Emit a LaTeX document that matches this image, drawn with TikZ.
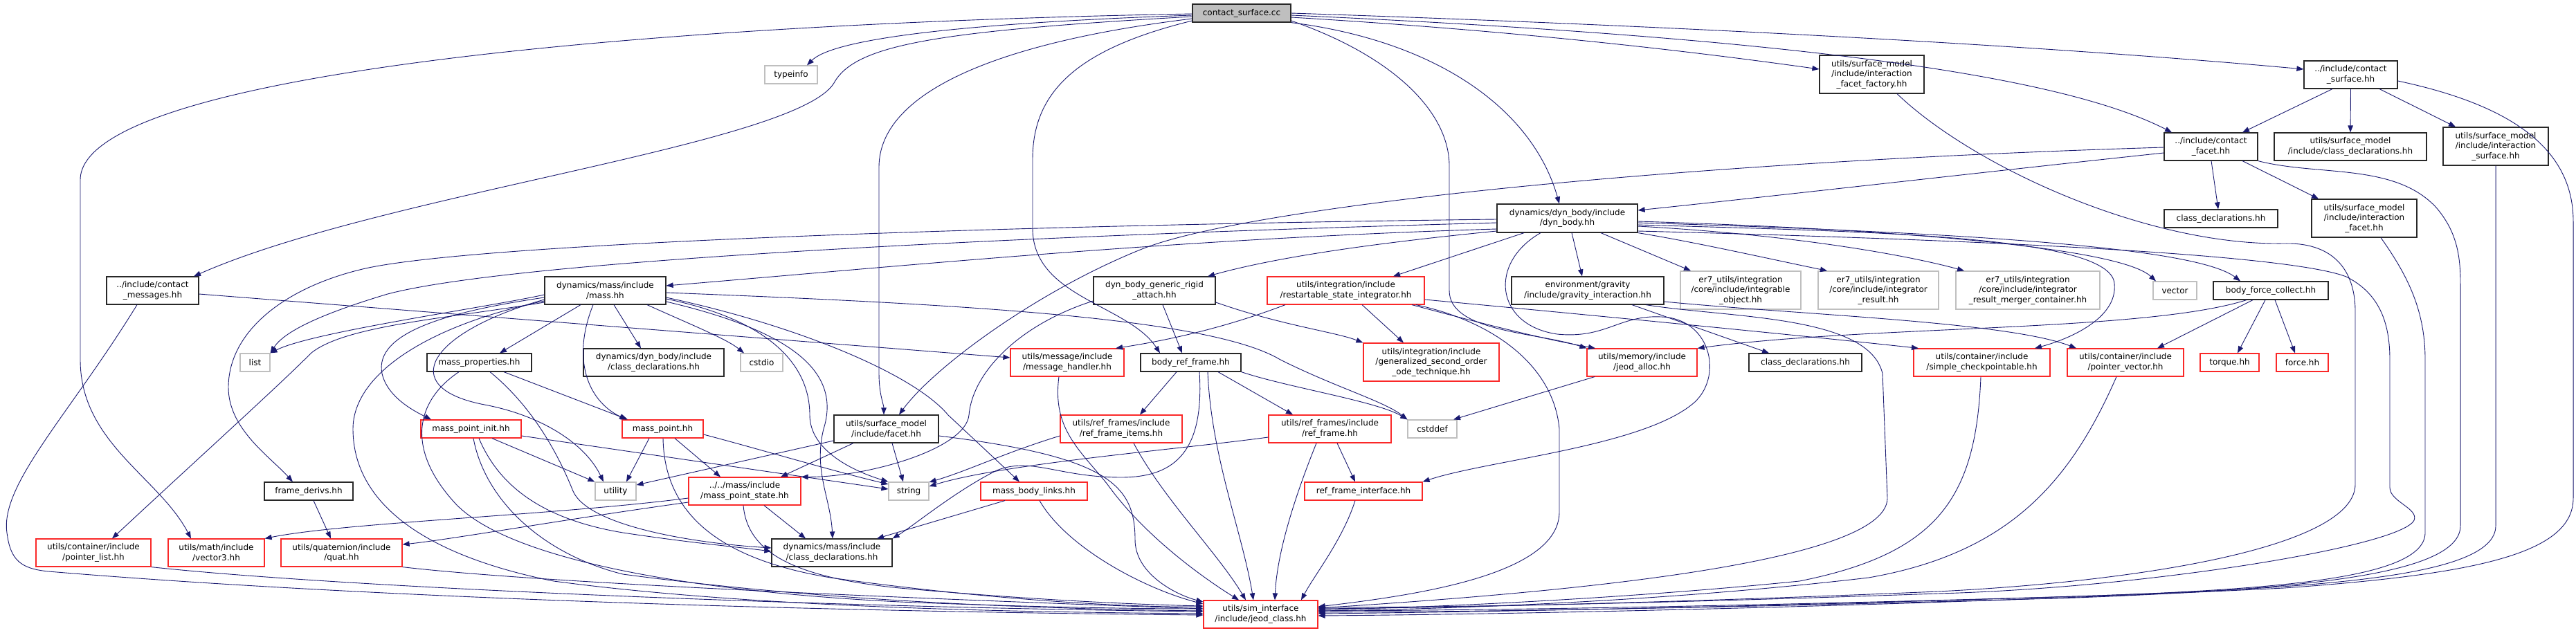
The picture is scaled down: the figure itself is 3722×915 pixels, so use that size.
\documentclass[tikz,border=0pt]{standalone}
\usepackage{fontspec}
\setmainfont{DejaVu Sans}
\usetikzlibrary{arrows.meta}
\definecolor{edgec}{RGB}{25,25,112}
\definecolor{redb}{RGB}{250,40,40}
\definecolor{grayb}{RGB}{191,191,191}
\definecolor{blackb}{RGB}{40,40,40}
\begin{document}
\begin{tikzpicture}[x=1pt,y=-1pt,
  box/.style={draw=blackb, line width=1.2pt, align=center, inner sep=0pt, fill=white,
    font=\fontsize{12pt}{14.5pt}\selectfont, text=black},
  nb/.style={box},
  nr/.style={box, draw=redb},
  ng/.style={box, draw=grayb},
  dep/.style={draw=edgec, line width=0.9pt, -{Triangle[length=10pt,width=7.5pt]}}]
\fill[white] (0,0) rectangle (3722,915);
\useasboundingbox (0,0) rectangle (3722,915);

% ---------------- nodes ----------------
\node[box, fill=grayb, minimum width=142pt, minimum height=26pt] (cs) at (1794,19) {contact\_surface.cc};
\node[ng, minimum width=76pt, minimum height=26pt] (typeinfo) at (1143,108) {typeinfo};
\node[nb, minimum width=151pt, minimum height=55pt] (iff) at (2704.5,107.5) {utils/surface\_model\\/include/interaction\\\_facet\_factory.hh};
\node[nb, minimum width=135pt, minimum height=40pt] (csh) at (3396.5,108) {../include/contact\\\_surface.hh};
\node[nb, minimum width=135pt, minimum height=40pt] (cf) at (3194.5,212) {../include/contact\\\_facet.hh};
\node[nb, minimum width=220pt, minimum height=40pt] (smcd) at (3396,212) {utils/surface\_model\\/include/class\_declarations.hh};
\node[nb, minimum width=152pt, minimum height=55pt] (isurf) at (3606,211.5) {utils/surface\_model\\/include/interaction\\\_surface.hh};
\node[nb, minimum width=164pt, minimum height=26pt] (cd1) at (3209,316) {class\_declarations.hh};
\node[nb, minimum width=152pt, minimum height=55pt] (ifacet) at (3416,315.5) {utils/surface\_model\\/include/interaction\\\_facet.hh};
\node[nb, minimum width=203pt, minimum height=41pt] (dynbody) at (2264.5,315.5) {dynamics/dyn\_body/include\\/dyn\_body.hh};
\node[nb, minimum width=133pt, minimum height=40pt] (cmsg) at (220.5,420) {../include/contact\\\_messages.hh};
\node[nb, minimum width=175pt, minimum height=40pt] (mass) at (874.5,420) {dynamics/mass/include\\/mass.hh};
\node[ng, minimum width=43pt, minimum height=26pt] (list) at (368.5,524) {list};
\node[nb, minimum width=151pt, minimum height=26pt] (massprop) at (692.5,524) {mass\_properties.hh};
\node[nb, minimum width=203pt, minimum height=40pt] (dbcd) at (944.5,524) {dynamics/dyn\_body/include\\/class\_declarations.hh};
\node[ng, minimum width=61pt, minimum height=26pt] (cstdio) at (1100.5,524) {cstdio};
\node[nb, minimum width=176pt, minimum height=40pt] (dbgra) at (1668,420) {dyn\_body\_generic\_rigid\\\_attach.hh};
\node[nr, minimum width=164pt, minimum height=40pt] (msgh) at (1542,524) {utils/message/include\\/message\_handler.hh};
\node[nb, minimum width=145pt, minimum height=26pt] (brf) at (1720.5,524) {body\_ref\_frame.hh};
\node[nr, minimum width=227pt, minimum height=40pt] (rsi) at (1944.5,420) {utils/integration/include\\/restartable\_state\_integrator.hh};
\node[nb, minimum width=220pt, minimum height=40pt] (grav) at (2294,420) {environment/gravity\\/include/gravity\_interaction.hh};
\node[ng, minimum width=174pt, minimum height=55pt] (intobj) at (2515,419.5) {er7\_utils/integration\\/core/include/integrable\\\_object.hh};
\node[ng, minimum width=174pt, minimum height=55pt] (intres) at (2714,419.5) {er7\_utils/integration\\/core/include/integrator\\\_result.hh};
\node[ng, minimum width=208pt, minimum height=55pt] (intmerge) at (2930,419.5) {er7\_utils/integration\\/core/include/integrator\\\_result\_merger\_container.hh};
\node[ng, minimum width=63pt, minimum height=26pt] (vector) at (3142.5,420) {vector};
\node[nb, minimum width=166pt, minimum height=26pt] (bfc) at (3281,420) {body\_force\_collect.hh};
\node[nr, minimum width=196pt, minimum height=55pt] (gso) at (2068,523.5) {utils/integration/include\\/generalized\_second\_order\\\_ode\_technique.hh};
\node[nr, minimum width=159pt, minimum height=40pt] (jalloc) at (2372.5,524) {utils/memory/include\\/jeod\_alloc.hh};
\node[nb, minimum width=163pt, minimum height=26pt] (cd2) at (2608.5,524) {class\_declarations.hh};
\node[nr, minimum width=197pt, minimum height=40pt] (scp) at (2863.5,524) {utils/container/include\\/simple\_checkpointable.hh};
\node[nr, minimum width=168pt, minimum height=40pt] (pvec) at (3071,524) {utils/container/include\\/pointer\_vector.hh};
\node[nr, minimum width=85pt, minimum height=26pt] (torque) at (3221.5,524) {torque.hh};
\node[nr, minimum width=75pt, minimum height=26pt] (force) at (3326.5,524) {force.hh};
\node[nr, minimum width=145pt, minimum height=26pt] (mpi) at (680.5,620) {mass\_point\_init.hh};
\node[nr, minimum width=117pt, minimum height=26pt] (mp) at (957.5,620) {mass\_point.hh};
\node[nb, minimum width=151pt, minimum height=40pt] (smfacet) at (1280.5,620) {utils/surface\_model\\/include/facet.hh};
\node[nr, minimum width=176pt, minimum height=40pt] (rfi) at (1620,620) {utils/ref\_frames/include\\/ref\_frame\_items.hh};
\node[nr, minimum width=177pt, minimum height=40pt] (rf) at (1921.5,620) {utils/ref\_frames/include\\/ref\_frame.hh};
\node[ng, minimum width=71pt, minimum height=26pt] (cstddef) at (2069.5,620) {cstddef};
\node[nb, minimum width=128pt, minimum height=26pt] (fd) at (446,710) {frame\_derivs.hh};
\node[ng, minimum width=59pt, minimum height=26pt] (utility) at (889.5,710) {utility};
\node[nr, minimum width=162pt, minimum height=40pt] (mps) at (1076,710) {../../mass/include\\/mass\_point\_state.hh};
\node[ng, minimum width=58pt, minimum height=26pt] (string) at (1313,710) {string};
\node[nr, minimum width=154pt, minimum height=26pt] (mbl) at (1494,710) {mass\_body\_links.hh};
\node[nr, minimum width=170pt, minimum height=26pt] (rfint) at (1970,710) {ref\_frame\_interface.hh};
\node[nr, minimum width=166pt, minimum height=40pt] (plist) at (135,799) {utils/container/include\\/pointer\_list.hh};
\node[nr, minimum width=139pt, minimum height=40pt] (v3) at (312.5,799) {utils/math/include\\/vector3.hh};
\node[nr, minimum width=175pt, minimum height=40pt] (quat) at (493.5,799) {utils/quaternion/include\\/quat.hh};
\node[nb, minimum width=174pt, minimum height=40pt] (mcd) at (1202,799) {dynamics/mass/include\\/class\_declarations.hh};
\node[nr, minimum width=165pt, minimum height=40pt] (jc) at (1821.5,888) {utils/sim\_interface\\/include/jeod\_class.hh};

% ---------------- edges ----------------
% contact_surface.cc
\draw[dep] (cs.west |- 0,20) .. controls (900,35) and (116,110) .. (116,260) -- (116,520) .. controls (116,640) and (230,690) .. (v3.north -| 276,0);
\draw[dep] (cs.west |- 0,22) .. controls (1350,35) and (1200,60) .. (typeinfo.north -| 1166,0);
\draw[dep] (cs.west |- 0,24) .. controls (1350,45) and (1235,65) .. (1205,120) .. controls (1150,210) and (550,280) .. (cmsg.north -| 280,0);
\draw[dep] (cs.west |- 0,27) .. controls (1450,60) and (1272,130) .. (1270,240) -- (1270,540) .. controls (1270,570) and (1277,585) .. (smfacet.north -| 1277,0);
\draw[dep] (cs.west |- 0,30) .. controls (1560,70) and (1492,130) .. (1492,230) -- (1492,330) .. controls (1492,430) and (1630,440) .. (brf.north -| 1676,0);
\draw[dep] (cs.south east) .. controls (2080,60) and (2215,160) .. (dynbody.north -| 2253,0);
\draw[dep] (cs.east |- 0,30) .. controls (2010,80) and (2094,160) .. (2094,240) -- (2094,420) .. controls (2094,480) and (2220,480) .. (jalloc.north west);
\draw[dep] (cs.east |- 0,25) .. controls (2200,45) and (2450,75) .. (iff.west |- 0,100);
\draw[dep] (cs.east |- 0,19) .. controls (2500,40) and (3000,70) .. (csh.west |- 0,100);
\draw[dep] (cs.east |- 0,22) .. controls (2600,55) and (2980,110) .. (cf.north -| 3138,0);
% contact_surface.hh
\draw[dep] (csh.south -| 3370,0) -- (cf.north -| 3240,0);
\draw[dep] (csh.south) -- (smcd.north);
\draw[dep] (csh.south -| 3438,0) -- (isurf.north -| 3548,0);
\draw[dep] (csh.east |- 0,117) .. controls (3620,150) and (3718,210) .. (3718,320) -- (3718,720) .. controls (3718,800) and (3580,830) .. (3300,850) .. controls (2800,875) and (2200,888) .. (jc.east |- 0,890);
% interaction_surface
\draw[dep] (isurf.south) -- (3606,760) .. controls (3606,835) and (3350,850) .. (3000,862) .. controls (2600,875) and (2200,884) .. (jc.east |- 0,887);
% contact_facet.hh
\draw[dep] (cf.south -| 3195,0) -- (cd1.north -| 3205,0);
\draw[dep] (cf.south -| 3240,0) -- (ifacet.north -| 3350,0);
\draw[dep] (cf.west |- 0,221) .. controls (2900,245) and (2550,285) .. (dynbody.east |- 0,304);
\draw[dep] (cf.west |- 0,213) .. controls (2400,235) and (1800,300) .. (1650,360) .. controls (1500,420) and (1350,530) .. (smfacet.north -| 1299,0);
\draw[dep] (cf.south east) .. controls (3350,255) and (3460,235) .. (3520,300) .. controls (3550,335) and (3555,370) .. (3555,410) -- (3555,760) .. controls (3555,835) and (3300,852) .. (3000,864) .. controls (2600,876) and (2200,884) .. (jc.east |- 0,885);
% interaction_facet
\draw[dep] (ifacet.south -| 3440,0) .. controls (3480,400) and (3504,450) .. (3504,520) -- (3504,770) .. controls (3504,835) and (3300,852) .. (3000,862) .. controls (2600,874) and (2200,882) .. (jc.east |- 0,883);
% interaction_facet_factory
\draw[dep] (iff.south -| 2741,0) .. controls (2850,240) and (3100,355) .. (3300,352) .. controls (3380,350) and (3403,400) .. (3403,450) -- (3403,700) .. controls (3403,790) and (3100,840) .. (2800,855) .. controls (2400,872) and (2100,878) .. (jc.east |- 0,880);
% dyn_body.hh
\draw[dep] (dynbody.east |- 0,334) .. controls (2800,345) and (3300,365) .. (3390,400) .. controls (3440,425) and (3453,470) .. (3453,520) -- (3453,705) .. controls (3453,725) and (3495,735) .. (3488,752) .. controls (3470,790) and (3100,850) .. (2800,858) .. controls (2400,872) and (2100,878) .. (jc.east |- 0,878);
\draw[dep] (dynbody.west |- 0,331) .. controls (1700,345) and (1300,385) .. (mass.east |- 0,413);
\draw[dep] (dynbody.west |- 0,317) .. controls (1500,325) and (700,350) .. (528,388) .. controls (410,415) and (330,480) .. (330,560) .. controls (330,620) and (390,660) .. (fd.north -| 423,0);
\draw[dep] (dynbody.west |- 0,322) .. controls (1500,340) and (750,375) .. (560,425) .. controls (460,455) and (410,480) .. (list.north east);
\draw[dep] (dynbody.west |- 0,334) .. controls (2000,350) and (1850,370) .. (dbgra.north -| 1745,0);
\draw[dep] (dynbody.south -| 2202,0) -- (rsi.north -| 2013,0);
\draw[dep] (dynbody.south -| 2271,0) -- (grav.north -| 2286,0);
\draw[dep] (dynbody.south -| 2313,0) -- (intobj.north -| 2443,0);
\draw[dep] (dynbody.south east) .. controls (2450,350) and (2560,375) .. (intres.north -| 2640,0);
\draw[dep] (dynbody.east |- 0,327) .. controls (2600,340) and (2760,370) .. (intmerge.north -| 2838,0);
\draw[dep] (dynbody.east |- 0,320) .. controls (2700,330) and (3060,355) .. (vector.north -| 3115,0);
\draw[dep] (dynbody.east |- 0,322) .. controls (2800,335) and (3170,355) .. (bfc.north -| 3237,0);
\draw[dep] (dynbody.east |- 0,325) .. controls (2700,335) and (3050,340) .. (3055,410) .. controls (3060,460) and (2990,490) .. (scp.north -| 2940,0);
\draw[dep] (dynbody.south -| 2226,0) .. controls (2150,380) and (2160,470) .. (2250,483) .. controls (2320,490) and (2340,455) .. (2400,458) .. controls (2470,460) and (2490,540) .. (2450,580) .. controls (2380,645) and (2150,665) .. (rfint.north east);
% mass.hh
\draw[dep] (mass.west |- 0,426) .. controls (700,445) and (450,480) .. (list.north east);
\draw[dep] (mass.south -| 839,0) -- (massprop.north -| 722,0);
\draw[dep] (mass.south -| 887,0) -- (dbcd.north -| 926,0);
\draw[dep] (mass.south -| 935,0) .. controls (1000,470) and (1050,490) .. (cstdio.north -| 1075,0);
\draw[dep] (mass.south -| 857,0) .. controls (825,520) and (850,580) .. (mp.north -| 905,0);
\draw[dep] (mass.west |- 0,430) .. controls (650,450) and (540,480) .. (552,540) .. controls (560,575) and (600,595) .. (mpi.north -| 623,0);
\draw[dep] (mass.west |- 0,433) .. controls (620,480) and (570,560) .. (700,585) .. controls (780,600) and (845,640) .. (utility.north -| 872,0);
\draw[dep] (mass.west |- 0,437) .. controls (650,460) and (500,470) .. (450,510) .. controls (400,560) and (300,650) .. (plist.north -| 162,0);
\draw[dep] (mass.west |- 0,435) .. controls (620,470) and (510,540) .. (510,620) .. controls (510,720) and (600,800) .. (800,840) .. controls (1100,880) and (1500,885) .. (jc.west |- 0,887);
\draw[dep] (mass.east |- 0,430) .. controls (1150,470) and (1320,540) .. (1370,600) -- (mbl.north -| 1473,0);
\draw[dep] (mass.east |- 0,432) .. controls (1100,460) and (1170,520) .. (1170,600) .. controls (1170,650) and (1230,680) .. (string.north west);
\draw[dep] (mass.east |- 0,436) .. controls (1150,480) and (1215,540) .. (1190,620) .. controls (1175,680) and (1200,720) .. (mcd.north -| 1203,0);
\draw[dep] (mass.east |- 0,423) .. controls (1400,440) and (1750,460) .. (1850,520) .. controls (1930,560) and (2000,580) .. (cstddef.north west);
% mass_properties
\draw[dep] (massprop.south -| 728,0) -- (mp.north -| 907,0);
\draw[dep] (massprop.south -| 663,0) .. controls (600,580) and (585,650) .. (660,730) .. controls (740,810) and (1000,855) .. (1300,870) .. controls (1500,878) and (1650,880) .. (jc.west |- 0,880);
\draw[dep] (massprop.south -| 708,0) .. controls (760,580) and (800,640) .. (828,710) .. controls (850,760) and (1000,785) .. (mcd.west |- 0,792);
% mass_point_init
\draw[dep] (mpi.south -| 711,0) -- (utility.north west);
\draw[dep] (mpi.east |- 0,630) -- (string.west |- 0,707);
\draw[dep] (mpi.south -| 692,0) .. controls (720,700) and (780,750) .. (900,770) .. controls (1000,785) and (1060,790) .. (mcd.west |- 0,797);
\draw[dep] (mpi.south -| 684,0) .. controls (700,720) and (780,800) .. (900,830) .. controls (1200,870) and (1500,880) .. (jc.west |- 0,883);
% mass_point
\draw[dep] (mp.south -| 938,0) -- (utility.north -| 905,0);
\draw[dep] (mp.south -| 975,0) -- (mps.north -| 1041,0);
\draw[dep] (mp.east |- 0,628) .. controls (1100,650) and (1200,680) .. (string.west |- 0,700);
\draw[dep] (mp.south -| 958,0) .. controls (960,750) and (1050,810) .. (1200,835) .. controls (1450,870) and (1650,878) .. (jc.west |- 0,877);
% mass_point_state
\draw[dep] (mps.south -| 1104,0) -- (mcd.north -| 1164,0);
\draw[dep] (mps.south -| 1074,0) .. controls (1080,800) and (1150,835) .. (1300,850) .. controls (1500,868) and (1650,874) .. (jc.west |- 0,876);
\draw[dep] (mps.west |- 0,720) .. controls (800,745) and (500,755) .. (v3.north east);
\draw[dep] (mps.west |- 0,726) .. controls (820,750) and (650,780) .. (quat.east |- 0,787);
% facet.hh
\draw[dep] (smfacet.west |- 0,637) -- (utility.east |- 0,701);
\draw[dep] (smfacet.south -| 1233,0) -- (mps.north -| 1128,0);
\draw[dep] (smfacet.south -| 1289,0) -- (string.north -| 1305,0);
\draw[dep] (smfacet.east |- 0,630) .. controls (1600,660) and (1640,700) .. (1640,780) .. controls (1640,830) and (1700,860) .. (jc.west |- 0,870);
% ref_frame_items
\draw[dep] (rfi.west |- 0,630) .. controls (1450,655) and (1400,680) .. (string.east |- 0,697);
\draw[dep] (rfi.south -| 1638,0) .. controls (1680,720) and (1760,800) .. (jc.north -| 1800,0);
% ref_frame
\draw[dep] (rf.west |- 0,632) .. controls (1700,650) and (1450,670) .. (string.east |- 0,703);
\draw[dep] (rf.south -| 1932,0) -- (rfint.north -| 1958,0);
\draw[dep] (rf.south -| 1902,0) .. controls (1870,720) and (1845,800) .. (jc.north -| 1842,0);
% ref_frame_interface
\draw[dep] (rfint.south -| 1958,0) .. controls (1940,780) and (1900,830) .. (jc.north -| 1880,0);
% body_ref_frame
\draw[dep] (brf.south -| 1700,0) -- (rfi.north -| 1647,0);
\draw[dep] (brf.south -| 1760,0) -- (rf.north -| 1868,0);
\draw[dep] (brf.south -| 1733,0) .. controls (1740,650) and (1700,690) .. (1620,690) .. controls (1530,690) and (1490,660) .. (1440,680) .. controls (1380,710) and (1320,760) .. (mcd.north east);
\draw[dep] (brf.south -| 1745,0) .. controls (1750,660) and (1795,770) .. (jc.north -| 1811,0);
\draw[dep] (brf.south east) .. controls (1860,560) and (1990,580) .. (cstddef.north west);
% dyn_body_generic_rigid_attach
\draw[dep] (dbgra.south -| 1680,0) -- (brf.north -| 1708,0);
\draw[dep] (dbgra.west |- 0,435) .. controls (1470,470) and (1405,540) .. (1400,600) .. controls (1395,650) and (1250,690) .. (mps.north east);
\draw[dep] (dbgra.east |- 0,437) .. controls (1850,470) and (1930,480) .. (gso.north west);
% restartable_state_integrator
\draw[dep] (rsi.south -| 1968,0) -- (gso.north -| 2028,0);
\draw[dep] (rsi.south -| 2040,0) .. controls (2150,470) and (2230,490) .. (jalloc.north -| 2305,0);
\draw[dep] (rsi.east |- 0,433) .. controls (2400,465) and (2650,490) .. (scp.north -| 2772,0);
\draw[dep] (rsi.south -| 1857,0) .. controls (1780,470) and (1700,490) .. (msgh.north -| 1612,0);
\draw[dep] (rsi.south -| 2046,0) .. controls (2160,465) and (2245,530) .. (2253,620) -- (2253,740) .. controls (2253,830) and (2050,860) .. (jc.east |- 0,877);
% jeod_alloc
\draw[dep] (jalloc.south -| 2304,0) -- (cstddef.north -| 2100,0);
% body_force_collect
\draw[dep] (bfc.south -| 3246,0) .. controls (3100,480) and (2700,470) .. (jalloc.north east);
\draw[dep] (bfc.south -| 3255,0) -- (pvec.north -| 3117,0);
\draw[dep] (bfc.south -| 3273,0) -- (torque.north -| 3233,0);
\draw[dep] (bfc.south -| 3287,0) -- (force.north -| 3316,0);
% gravity_interaction
\draw[dep] (grav.south -| 2358,0) -- (cd2.north -| 2556,0);
\draw[dep] (grav.south -| 2378,0) .. controls (2500,460) and (2700,455) .. (2720,540) -- (2727,720) .. controls (2727,820) and (2200,860) .. (jc.east |- 0,879);
\draw[dep] (grav.east |- 0,436) .. controls (2600,455) and (2900,465) .. (pvec.north -| 3000,0);
% message_handler
\draw[dep] (msgh.south -| 1530,0) .. controls (1520,620) and (1560,650) .. (1600,700) .. controls (1650,770) and (1730,830) .. (jc.north -| 1790,0);
% mass_body_links
\draw[dep] (mbl.south -| 1452,0) -- (mcd.north -| 1267,0);
\draw[dep] (mbl.south -| 1502,0) .. controls (1540,790) and (1650,850) .. (jc.west |- 0,873);
% contact_messages
\draw[dep] (cmsg.east |- 0,425) -- (msgh.west |- 0,517);
\draw[dep] (cmsg.south -| 198,0) .. controls (100,600) and (0,700) .. (10,770) .. controls (15,810) and (30,822) .. (70,826) .. controls (600,870) and (1300,885) .. (jc.west |- 0,889);
% pointer_list, quat, frame_derivs
\draw[dep] (plist.south east) .. controls (500,850) and (1200,878) .. (jc.west |- 0,884);
\draw[dep] (quat.south east) .. controls (800,845) and (1400,868) .. (jc.west |- 0,880);
\draw[dep] (fd.south -| 453,0) -- (quat.north -| 478,0);
% pointer_vector, simple_checkpointable
\draw[dep] (pvec.south -| 3058,0) .. controls (2990,700) and (2900,800) .. (2700,835) .. controls (2400,870) and (2100,880) .. (jc.east |- 0,883);
\draw[dep] (scp.south -| 2862,0) .. controls (2855,720) and (2800,800) .. (2600,840) .. controls (2300,870) and (2000,880) .. (jc.east |- 0,881);
\end{tikzpicture}
\end{document}
